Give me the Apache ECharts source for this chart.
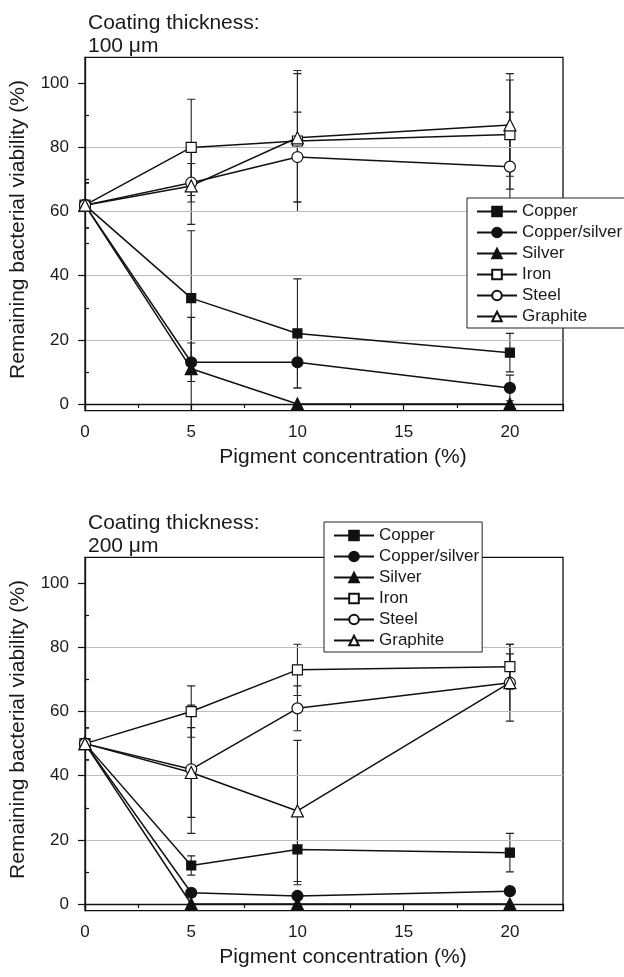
<!DOCTYPE html>
<html>
<head>
<meta charset="utf-8">
<script src="https://cdn.jsdelivr.net/npm/echarts@6/dist/echarts.min.js"></script>
<style>
  html, body { margin: 0; padding: 0; background: #fff; }
  #main { width: 624px; height: 977px; }
</style>
</head>
<body>
<div id="main"></div>
<script>
// pigment concentration (%) where viability was measured
const concentrations = [0, 5, 10, 20];
const pigments = ["Copper", "Copper/silver", "Silver", "Iron", "Steel", "Graphite"];
const xTickLabels = [0, 5, 10, 15, 20];
const yTickLabels = [0, 20, 40, 60, 80, 100];

// coating thickness 100 µm: remaining viability (%)
const copper100 = [62, 33, 22, 16];
const copperSilver100 = [62, 13, 13, 5];
const silver100 = [62, 11, 0, 0];
const iron100 = [62, 80, 82, 84];
const steel100 = [62, 69, 77, 74];
const graphite100 = [62, 68, 83, 87];
// error bars (+/-)
const copper100Err = [7, 21, 17, 6];
const copperSilver100Err = [7, 6, 8, 4];
const silver100Err = [7, 16, 0, 0];
const iron100Err = [7, 15, 22, 17];
const steel100Err = [7, 6, 14, 17];
const graphite100Err = [7, 12, 20, 16];

// coating thickness 200 µm
const copper200 = [50, 12, 17, 16];
const copperSilver200 = [50, 3.5, 2.5, 4];
const silver200 = [50, 0, 0, 0];
const iron200 = [50, 60, 73, 74];
const steel200 = [50, 42, 61, 69];
const graphite200 = [50, 41, 29, 69];
const copper200Err = [5, 3, 11, 6];
const copperSilver200Err = [5, 0, 0, 0];
const silver200Err = [5, 0, 0, 0];
const iron200Err = [5, 8, 8, 7];
const steel200Err = [5, 20, 7, 9];
const graphite200Err = [5, 14, 22, 12];

const FONT = "Liberation Sans";
const INK = "#111";

// marker look of each pigment
const markers = {
  "Copper": { symbol: "rect", size: 9, fill: INK },
  "Copper/silver": { symbol: "circle", size: 11, fill: INK },
  "Silver": { symbol: "triangle", size: 12, fill: INK },
  "Iron": { symbol: "rect", size: 10, fill: "#fff" },
  "Steel": { symbol: "circle", size: 11, fill: "#fff" },
  "Graphite": { symbol: "triangle", size: 12, fill: "#fff" }
};

const panels = [
  {
    title: "Coating thickness:\n100 \u03bcm",
    values: [copper100, copperSilver100, silver100, iron100, steel100, graphite100],
    errors: [copper100Err, copperSilver100Err, silver100Err, iron100Err, steel100Err, graphite100Err],
    top: 57.3,
    legend: { left: 467, top: 198 }
  },
  {
    title: "Coating thickness:\n200 \u03bcm",
    values: [copper200, copperSilver200, silver200, iron200, steel200, graphite200],
    errors: [copper200Err, copperSilver200Err, silver200Err, iron200Err, steel200Err, graphite200Err],
    top: 557.3,
    legend: { left: 324, top: 522 }
  }
];

const option = {
  backgroundColor: "#fff",
  animation: false,
  textStyle: { fontFamily: FONT },
  title: [],
  legend: [],
  grid: [],
  xAxis: [],
  yAxis: [],
  series: []
};

panels.forEach((p, g) => {
  option.title.push({
    text: p.title,
    left: 88,
    top: p.top - 46,
    padding: 0,
    textStyle: { fontFamily: FONT, fontSize: 21, fontWeight: "normal", color: "#1a1a1a", lineHeight: 23 }
  });

  option.grid.push({
    left: 85,
    right: 61,
    top: p.top,
    height: 353.4,
    show: true,
    borderColor: INK,
    borderWidth: 1.3,
    outerBoundsMode: "none"
  });

  option.xAxis.push({
    type: "value",
    gridIndex: g,
    min: 0,
    max: 22.5,
    interval: 5,
    z: 3,
    axisLine: { lineStyle: { color: INK, width: 1.3 } },
    axisTick: { length: 7, lineStyle: { color: INK, width: 1.2 } },
    minorTick: { show: true, splitNumber: 2, length: 4, lineStyle: { color: INK, width: 1.2 } },
    axisLabel: { customValues: xTickLabels, fontSize: 17, color: "#1a1a1a", margin: 13, fontFamily: FONT },
    splitLine: { show: false },
    name: "Pigment concentration (%)",
    nameLocation: "middle",
    nameGap: 36,
    nameTextStyle: { fontSize: 21, color: "#1a1a1a", padding: [0, 0, 0, 38], fontFamily: FONT }
  });

  // main left axis: labels, outward ticks, grid lines
  option.yAxis.push({
    type: "value",
    gridIndex: g,
    min: -2.1,
    max: 108.1,
    z: 3,
    axisLine: { show: true, lineStyle: { color: INK, width: 1.3 } },
    axisTick: { show: true, customValues: yTickLabels, length: 7, lineStyle: { color: INK, width: 1.2 } },
    axisLabel: { customValues: yTickLabels, fontSize: 17, color: "#1a1a1a", margin: 16, fontFamily: FONT },
    splitLine: { show: true, showMinLine: false, showMaxLine: false, lineStyle: { color: "#bdbdbd", width: 1.2 } },
    name: "Remaining bacterial viability (%)",
    nameLocation: "middle",
    nameGap: 56,
    nameTextStyle: { fontSize: 21, color: "#1a1a1a", padding: [0, 0, 0, 9], fontFamily: FONT }
  });
  // second left axis, only for the short inside minor ticks
  option.yAxis.push({
    type: "value",
    gridIndex: g,
    position: "left",
    min: -2.1,
    max: 108.1,
    z: 3,
    axisLine: { show: false },
    axisTick: { show: false, inside: true },
    minorTick: { show: true, splitNumber: 2, length: 4, lineStyle: { color: INK, width: 1.2 } },
    axisLabel: { show: false },
    splitLine: { show: false }
  });

  const yIdx = g * 2;
  const errData = [];
  pigments.forEach((name, i) => {
    concentrations.forEach((c, k) => {
      if (p.errors[i][k] > 0) errData.push([c, p.values[i][k], p.errors[i][k]]);
    });
  });

  option.series.push({
    type: "custom",
    xAxisIndex: g,
    yAxisIndex: yIdx,
    data: errData,
    encode: { x: 0, y: 1 },
    clip: true,
    silent: true,
    z: 1,
    renderItem: (params, api) => {
      const x = api.value(0);
      const y = api.value(1);
      const e = api.value(2);
      const hi = api.coord([x, y + e]);
      const lo = api.coord([x, y - e]);
      const w = 4;
      const st = { stroke: "#222", lineWidth: 1.1 };
      return {
        type: "group",
        children: [
          { type: "line", shape: { x1: hi[0], y1: hi[1], x2: lo[0], y2: lo[1] }, style: st },
          { type: "line", shape: { x1: hi[0] - w, y1: hi[1], x2: hi[0] + w, y2: hi[1] }, style: st },
          { type: "line", shape: { x1: lo[0] - w, y1: lo[1], x2: lo[0] + w, y2: lo[1] }, style: st }
        ]
      };
    }
  });

  pigments.forEach((name, i) => {
    const m = markers[name];
    option.series.push({
      name: name,
      type: "line",
      xAxisIndex: g,
      yAxisIndex: yIdx,
      data: concentrations.map((c, k) => [c, p.values[i][k]]),
      symbol: m.symbol,
      symbolSize: m.size,
      showAllSymbol: true,
      z: 3,
      lineStyle: { color: INK, width: 1.5 },
      itemStyle: { color: m.fill, borderColor: INK, borderWidth: 1.2, opacity: 1 },
      emphasis: { disabled: true }
    });
  });

  option.legend.push({
    data: pigments,
    orient: "vertical",
    left: p.legend.left,
    top: p.legend.top,
    itemWidth: 40,
    itemHeight: 12,
    itemGap: 4,
    padding: [5, 3, 3, 9],
    selectedMode: false,
    backgroundColor: "#fff",
    borderColor: "#222",
    borderWidth: 1,
    z: 10,
    textStyle: { fontSize: 17, color: "#1a1a1a", fontFamily: FONT, padding: [0, 0, 0, 0] }
  });
});

const chart = echarts.init(document.getElementById("main"), null, { renderer: "canvas" });
chart.setOption(option);
</script>
</body>
</html>
